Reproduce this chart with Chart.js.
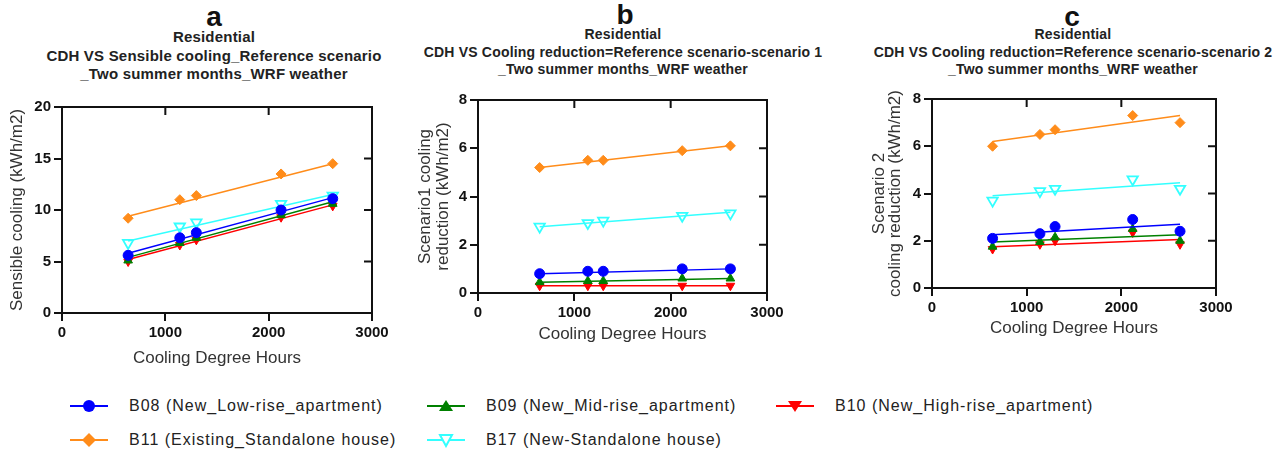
<!DOCTYPE html>
<html>
<head>
<meta charset="utf-8">
<script src="https://cdn.jsdelivr.net/npm/chart.js@4"></script>
<style>
body { margin: 0; width: 1278px; height: 455px; background: #fff; position: relative; overflow: hidden;
  font-family: "Liberation Sans", Arial, sans-serif; }
.letter { position: absolute; transform: translateX(-50%); font-weight: bold; font-size: 28px; line-height: 30px; color: #111; }
.ttl { position: absolute; transform: translateX(-50%); text-align: center; font-weight: bold; font-size: 15px;
  line-height: 18.5px; white-space: nowrap; color: #222; letter-spacing: 0.2px; }
.ttl.sm { font-size: 14px; line-height: 17.5px; }
canvas { position: absolute; }
.leg { position: absolute; display: flex; align-items: center; font-size: 16px; letter-spacing: 1px; color: #222; white-space: nowrap; }
.leg svg { margin-right: 21px; }
</style>
</head>
<body>
<div class="letter" style="left:214px;top:2px">a</div>
<div class="ttl" style="left:214px;top:28px">Residential<br>CDH VS Sensible cooling_Reference scenario<br>_Two summer months_WRF weather</div>
<div class="letter" style="left:625px;top:0px">b</div>
<div class="ttl sm" style="left:623px;top:26px">Residential<br>CDH VS Cooling reduction=Reference scenario-scenario 1<br>_Two summer months_WRF weather</div>
<div class="letter" style="left:1072px;top:2px">c</div>
<div class="ttl sm" style="left:1073px;top:26px">Residential<br>CDH VS Cooling reduction=Reference scenario-scenario 2<br>_Two summer months_WRF weather</div>

<canvas id="chartA" style="left:0px;top:90px" width="400" height="283"></canvas>
<canvas id="chartB" style="left:405px;top:80px" width="400" height="269"></canvas>
<canvas id="chartC" style="left:855px;top:80px" width="400" height="263"></canvas>

<div id="legend"></div>

<script>
// x values (cooling degree hours) for the five locations
var cdh = [640, 1140, 1300, 2120, 2620];
var fitX = [640, 2620];

var names = ["B08 (New_Low-rise_apartment)", "B09 (New_Mid-rise_apartment)", "B10 (New_High-rise_apartment)",
  "B11 (Existing_Standalone house)", "B17 (New-Standalone house)"];
var colors = ["#0000ff", "#008000", "#ff0000", "#ff8c1a", "#33ffff"];

// a: sensible cooling, reference scenario
var aB08 = [5.6, 7.3, 7.8, 10.0, 11.1];
var aB09 = [5.1, 6.8, 7.3, 9.5, 10.6];
var aB10 = [5.0, 6.6, 7.1, 9.3, 10.4];
var aB11 = [9.2, 11.0, 11.4, 13.5, 14.5];
var aB17 = [6.8, 8.4, 8.8, 10.6, 11.4];
var aFit = [[5.8, 11.2], [5.4, 10.8], [5.2, 10.5], [9.4, 14.5], [7.0, 11.5]];

// b: cooling reduction, scenario 1
var bB08 = [0.8, 0.9, 0.9, 1.0, 1.0];
var bB09 = [0.45, 0.5, 0.5, 0.6, 0.6];
var bB10 = [0.3, 0.3, 0.3, 0.3, 0.3];
var bB11 = [5.2, 5.5, 5.5, 5.9, 6.1];
var bB17 = [2.75, 2.9, 3.0, 3.2, 3.3];
var bFit = [[0.8, 1.0], [0.45, 0.6], [0.3, 0.3], [5.2, 6.1], [2.75, 3.35]];

// c: cooling reduction, scenario 2
var cB08 = [2.1, 2.3, 2.6, 2.9, 2.4];
var cB09 = [1.75, 1.95, 2.15, 2.5, 2.0];
var cB10 = [1.65, 1.85, 2.0, 2.35, 1.85];
var cB11 = [6.0, 6.5, 6.7, 7.3, 7.0];
var cB17 = [3.7, 4.1, 4.2, 4.6, 4.2];
var cFit = [[2.25, 2.7], [1.95, 2.25], [1.75, 2.05], [6.2, 7.3], [3.9, 4.45]];

var xTicks = [0, 1000, 2000, 3000];

Chart.defaults.font.family = "'Liberation Sans', Arial, sans-serif";

var markers = [
  { pointStyle: 'circle', rotation: 0, radius: 5, fill: true },
  { pointStyle: 'triangle', rotation: 0, radius: 5, fill: true },
  { pointStyle: 'triangle', rotation: 180, radius: 5, fill: true },
  { pointStyle: 'rectRot', rotation: 0, radius: 5, fill: true },
  { pointStyle: 'triangle', rotation: 180, radius: 6, fill: false }
];

function makeDatasets(series, fits) {
  var sets = [];
  series.forEach(function (vals, i) {
    var m = markers[i];
    sets.push({
      data: vals.map(function (v, j) { return { x: cdh[j], y: v }; }),
      showLine: false,
      pointStyle: m.pointStyle,
      rotation: m.rotation,
      pointRadius: m.radius,
      pointBackgroundColor: m.fill ? colors[i] : 'rgba(255,255,255,0)',
      pointBorderColor: colors[i],
      pointBorderWidth: m.fill ? 1 : 1.8
    });
    sets.push({
      data: fits[i].map(function (v, j) { return { x: fitX[j], y: v }; }),
      showLine: true,
      borderColor: colors[i],
      borderWidth: 1.5,
      pointRadius: 0
    });
  });
  return sets;
}

// box frame with inward ticks on top and right
var framePlugin = {
  id: 'frame',
  afterDraw: function (chart) {
    var ctx = chart.ctx, a = chart.chartArea;
    var xs = chart.scales.x, ys = chart.scales.y;
    ctx.save();
    ctx.strokeStyle = '#111';
    ctx.lineWidth = 2;
    ctx.beginPath();
    ctx.moveTo(a.left - 1, a.top);
    ctx.lineTo(a.right, a.top);
    ctx.lineTo(a.right, a.bottom + 1);
    xs.ticks.forEach(function (t) {
      var px = xs.getPixelForValue(t.value);
      if (px > a.left + 2 && px < a.right - 2) { ctx.moveTo(px, a.top); ctx.lineTo(px, a.top + 8); }
    });
    ys.ticks.forEach(function (t) {
      var py = ys.getPixelForValue(t.value);
      if (py > a.top + 2 && py < a.bottom - 2) { ctx.moveTo(a.right, py); ctx.lineTo(a.right - 8, py); }
    });
    ctx.stroke();
    ctx.restore();
  }
};

function plain(v) { return String(v); }

function makeChart(id, series, fits, cfg) {
  new Chart(document.getElementById(id), {
    type: 'scatter',
    data: { datasets: makeDatasets(series, fits) },
    options: {
      responsive: false,
      animation: false,
      layout: { padding: cfg.padding },
      plugins: { legend: { display: false }, tooltip: { enabled: false } },
      scales: {
        x: {
          type: 'linear', min: 0, max: 3000,
          afterBuildTicks: function (s) { s.ticks = xTicks.map(function (v) { return { value: v }; }); },
          afterFit: function (s) { s.height = cfg.xHeight; },
          border: { display: true, color: '#111', width: 2 },
          grid: { display: true, drawOnChartArea: false, drawTicks: true, tickLength: 8, color: '#111', lineWidth: 2 },
          ticks: { color: '#111', font: { size: 15, weight: 'bold' }, padding: 3, maxRotation: 0, callback: plain },
          title: { display: true, text: 'Cooling Degree Hours', color: '#333', font: { size: 17 }, padding: { top: 4, bottom: 4 } }
        },
        y: {
          min: 0, max: cfg.yMax,
          afterBuildTicks: function (s) { s.ticks = cfg.yTicks.map(function (v) { return { value: v }; }); },
          afterFit: function (s) { s.width = cfg.yWidth; },
          border: { display: true, color: '#111', width: 2 },
          grid: { display: true, drawOnChartArea: false, drawTicks: true, tickLength: 8, color: '#111', lineWidth: 2 },
          ticks: { color: '#111', font: { size: 15, weight: 'bold' }, padding: 3, callback: plain },
          title: { display: true, text: cfg.yTitle, color: '#333', font: { size: 17, lineHeight: cfg.yLine }, padding: { top: 4, bottom: 4 } }
        }
      }
    },
    plugins: [framePlugin]
  });
}

makeChart('chartA', [aB08, aB09, aB10, aB11, aB17], aFit, {
  padding: { left: 3, top: 17, right: 28, bottom: 0 }, xHeight: 60, yWidth: 59,
  yMax: 20, yTicks: [0, 5, 10, 15, 20], yTitle: 'Sensible cooling (kWh/m2)', yLine: 1.2
});
makeChart('chartB', [bB08, bB09, bB10, bB11, bB17], bFit, {
  padding: { left: 7, top: 20, right: 38, bottom: 0 }, xHeight: 56, yWidth: 66,
  yMax: 8, yTicks: [0, 2, 4, 6, 8], yTitle: ['Scenario1 cooling', 'reduction (kWh/m2)'], yLine: 1.06
});
makeChart('chartC', [cB08, cB09, cB10, cB11, cB17], cFit, {
  padding: { left: 12, top: 19, right: 39, bottom: 0 }, xHeight: 55, yWidth: 65,
  yMax: 8, yTicks: [0, 2, 4, 6, 8], yTitle: ['Scenario 2', 'cooling reduction (kWh/m2)'], yLine: 0.94
});

// shared legend
var legPos = [[70, 406], [427, 406], [776, 406], [70, 440], [427, 440]];
var shapes = [
  '<circle cx="19" cy="8" r="6" fill="C"/>',
  '<polygon points="19,2 26,13 12,13" fill="C"/>',
  '<polygon points="19,14 26,3 12,3" fill="C"/>',
  '<polygon points="19,1 26,8 19,15 12,8" fill="C"/>',
  '<polygon points="19,14 25,3 13,3" fill="#fff" stroke="C" stroke-width="2"/>'
];
var legend = document.getElementById('legend');
names.forEach(function (n, i) {
  var d = document.createElement('div');
  d.className = 'leg';
  d.style.left = legPos[i][0] + 'px';
  d.style.top = (legPos[i][1] - 9) + 'px';
  d.innerHTML = '<svg width="38" height="16"><line x1="0" y1="8" x2="38" y2="8" stroke="' + colors[i] + '" stroke-width="2"/>' +
    shapes[i].replace(/C/g, colors[i]) + '</svg><span>' + n + '</span>';
  legend.appendChild(d);
});
</script>
</body>
</html>
